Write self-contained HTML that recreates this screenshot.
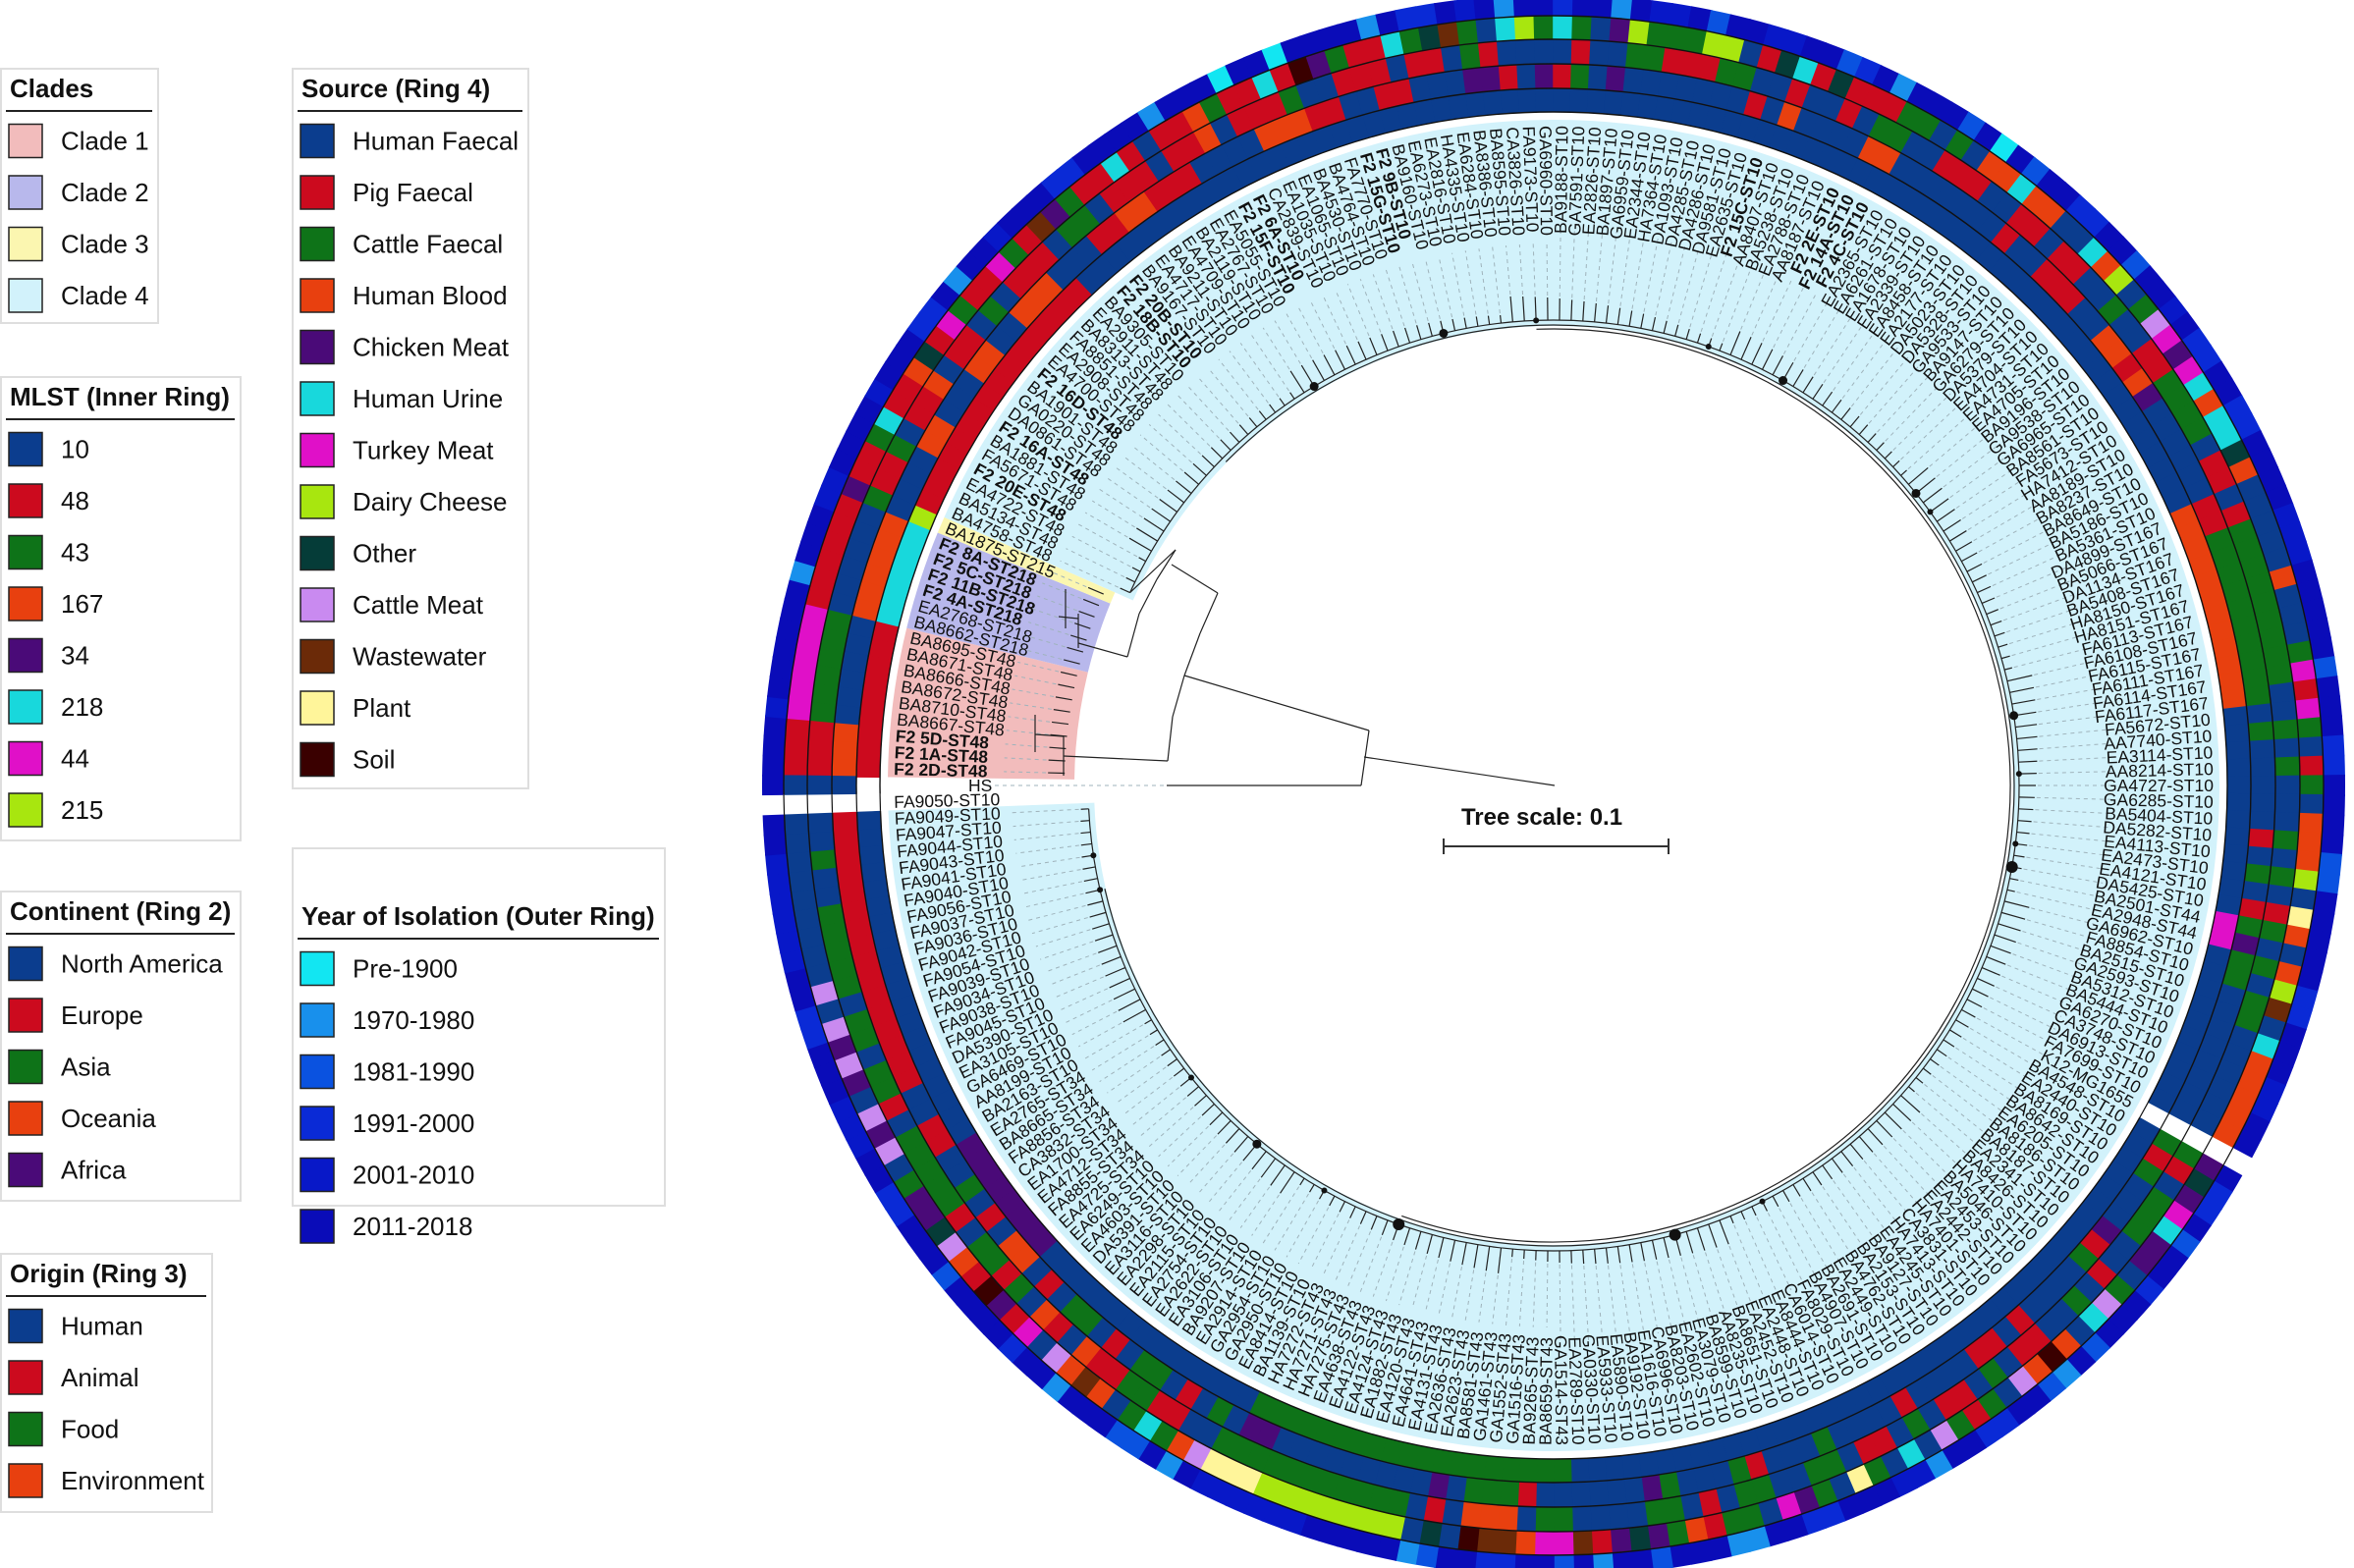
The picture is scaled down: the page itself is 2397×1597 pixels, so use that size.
<!DOCTYPE html>
<html><head><meta charset="utf-8"><title>Phylogenetic tree</title>
<style>
html,body{margin:0;padding:0;background:#fff;}
svg{display:block;font-family:"Liberation Sans",Arial,sans-serif;}
</style></head>
<body>
<svg id="chart" width="2397" height="1597" viewBox="0 0 2397 1597" xmlns="http://www.w3.org/2000/svg">
<g id="clades"></g>
<g id="tree" stroke="#222" stroke-width="1.2" fill="none"></g>
<g id="labels"></g>
<g id="rings"></g>
<g id="scale">
  <text x="1570" y="840" text-anchor="middle" font-size="24" font-weight="bold" fill="#111">Tree scale: 0.1</text>
  <path d="M1470 862 H1699 M1470 854 V870 M1699 854 V870" stroke="#333" stroke-width="2" fill="none"/>
</g>
<g id="legends"></g>
</svg>
<script>
// ---------- DATA ----------
const names = ["F2 2D-ST48","F2 1A-ST48","F2 5D-ST48","BA8667-ST48","BA8710-ST48","BA8672-ST48","BA8666-ST48","BA8671-ST48","BA8695-ST48",
"BA8662-ST218","EA2768-ST218","F2 4A-ST218","F2 11B-ST218","F2 5C-ST218","F2 8A-ST218","BA1875-ST215",
"BA4758-ST48","BA5134-ST48","EA4722-ST48","F2 20E-ST48","FA5671-ST48","BA1881-ST48","F2 16A-ST48","DA0861-ST48","GA0220-ST48","BA1901-ST48","F2 16D-ST48","EA4700-ST48","EA2908-ST48","FA8851-ST48","BA8313-ST48","EA2911-ST48",
"BA9305-ST10","F2 18B-ST10","F2 20B-ST10","BA9167-ST10","EA4717-ST10","BA9211-ST10","EA4709-ST10","BA2119-ST10","EA2767-ST10","EA5055-ST10","F2 15F-ST10","F2 6A-ST10","CA2839-ST10","EA1035-ST10","EA1065-ST10","BA4530-ST10","BA4764-ST10","FA7770-ST10","F2 15G-ST10","F2 9B-ST10","BA9160-ST10","EA6273-ST10","EA2816-ST10","HA4335-ST10","EA6284-ST10","BA8386-ST10","BA8595-ST10","CA3826-ST10","FA9173-ST10","GA6960-ST10","BA9188-ST10",
"GA7591-ST10","EA2826-ST10","BA1897-ST10","GA6959-ST10","EA2344-ST10","HA7364-ST10","DA1093-ST10","DA4285-ST10","DA4286-ST10","DA9581-ST10","EA2635-ST10","F2 15C-ST10","AA8407-ST10","BA5238-ST10","EA2788-ST10","AA8187-ST10","F2 2E-ST10","F2 14A-ST10","F2 4C-ST10","EA2365-ST10","EA6261-ST10","EA1678-ST10","EA2339-ST10","EA8458-ST10","EA2177-ST10","DA5023-ST10","DA5328-ST10","GA9533-ST10","BA9147-ST10","GA6279-ST10","DA5379-ST10","EA4704-ST10","EA4731-ST10","EA4705-ST10","BA9196-ST10","GA9538-ST10","GA6965-ST10","BA8561-ST10","FA5673-ST10","HA7412-ST10","AA8189-ST10","BA8237-ST10","BA8649-ST10","BA5186-ST10","BA5361-ST10",
"DA4899-ST167","BA5066-ST167","DA1134-ST167","BA5408-ST167","HA8150-ST167","HA8151-ST167","FA6113-ST167","FA6108-ST167","FA6115-ST167","FA6111-ST167","FA6114-ST167","FA6117-ST167",
"FA5672-ST10","AA7740-ST10","EA3114-ST10","AA8214-ST10","GA4727-ST10","GA6285-ST10","BA5404-ST10","DA5282-ST10","EA4113-ST10","EA2473-ST10","EA4121-ST10","DA5425-ST10","BA2501-ST44","EA2948-ST44","GA6962-ST10","FA8854-ST10","BA2515-ST10","GA2593-ST10","BA5312-ST10","BA5444-ST10","GA6270-ST10","CA3748-ST10","DA6913-ST10","FA7699-ST10","K12-MG1655",
"BA4548-ST10","EA2440-ST10","BA8169-ST10","BA8642-ST10","EA6205-ST10","BA8186-ST10","BA8187-ST10","EA2341-ST10","BA8426-ST10","HA7410-ST10","BA5046-ST10","EA2453-ST10","EA2442-ST10","HA7401-ST10","CA3831-ST10","HA7413-ST10","EA4245-ST10","BA9127-ST10","BA2153-ST10","BA4762-ST10","EA2449-ST10","BA2691-ST10","BA4907-ST10","FA8029-ST10","CA6014-ST10","EA8444-ST10","EA2448-ST10","EA2452-ST10","BA8651-ST10","AA8235-ST10","BA8599-ST10","EA3079-ST10","EA2602-ST10","BA8203-ST10","CA6996-ST10","EA1616-ST10","BA9192-ST10","EA5890-ST10","EA5933-ST10","GA0330-ST10","EA2789-ST10",
"GA1514-ST43","BA8659-ST43","BA9265-ST43","GA1516-ST43","GA1552-ST43","GA1461-ST43","BA8581-ST43","EA2623-ST43","EA2636-ST43","EA4131-ST43","EA4641-ST43","EA4120-ST43","EA1882-ST43","EA4124-ST43","EA4122-ST43","EA4638-ST43","HA7275-ST43","HA7271-ST43","HA7272-ST43",
"BA1139-ST10","EA8414-ST10","GA2950-ST10","GA2954-ST10","EA2914-ST10","BA9207-ST10","EA3106-ST10","EA2622-ST10","EA2754-ST10","EA2115-ST10","EA2298-ST10","EA3116-ST10","DA5391-ST10","EA4603-ST10","EA6249-ST10",
"EA4725-ST34","FA8855-ST34","EA4712-ST34","EA1700-ST34","CA3832-ST34","FA8856-ST34","BA8665-ST34","EA2765-ST34",
"BA2163-ST10","AA8199-ST10","GA6469-ST10","EA3105-ST10","DA5390-ST10",
"FA9045-ST10","FA9038-ST10","FA9034-ST10","FA9039-ST10","FA9054-ST10","FA9042-ST10","FA9036-ST10","FA9037-ST10","FA9056-ST10","FA9040-ST10","FA9041-ST10","FA9043-ST10","FA9044-ST10","FA9047-ST10","FA9049-ST10","FA9050-ST10","HS"];

const gapLeaves = [144, 248];
const cladeSegs = [[0,8,1],[9,14,2],[15,15,3],[16,247,4]];
const continentSegs = [[0,2,"O"],[9,14,"O"],[19,20,"O"],[24,25,"O"],[28,30,"O"],[34,35,"E"],[36,37,"O"],[38,40,"E"],[45,47,"O"],[48,49,"E"],[52,53,"E"],[57,58,"F"],[59,59,"E"],[61,61,"F"],[62,62,"E"],[63,63,"A"],[65,65,"F"],[73,73,"E"],[75,75,"O"],[80,81,"O"],[89,89,"E"],[92,94,"E"],[97,98,"O"],[99,99,"E"],[100,100,"O"],[101,101,"F"],[108,109,"E"],[110,119,"A"],[121,121,"A"],[127,127,"E"],[129,129,"A"],[131,131,"E"],[132,132,"A"],[133,133,"F"],[134,135,"A"],[145,145,"A"],[146,146,"E"],[147,147,"A"],[151,151,"F"],[152,152,"E"],[153,153,"A"],[158,158,"E"],[160,161,"E"],[166,166,"E"],[171,171,"A"],[175,175,"E"],[176,176,"A"],[180,180,"A"],[181,181,"F"],[188,188,"E"],[189,191,"A"],[193,193,"F"],[203,204,"F"],[206,206,"A"],[208,208,"E"],[210,211,"A"],[213,213,"E"],[215,216,"A"],[218,218,"E"],[220,221,"O"],[223,223,"E"],[225,225,"A"],[228,229,"E"],[232,247,"E"]];
const originSegs = [[0,2,"A"],[3,8,"F"],[15,15,"F"],[16,17,"A"],[18,18,"F"],[20,21,"A"],[22,22,"E"],[24,25,"A"],[27,27,"F"],[29,31,"A"],[33,34,"F"],[36,38,"A"],[40,41,"A"],[42,42,"E"],[44,46,"A"],[47,47,"F"],[50,52,"A"],[54,55,"A"],[57,57,"F"],[58,58,"A"],[63,63,"A"],[66,67,"F"],[68,70,"A"],[71,72,"F"],[75,75,"A"],[78,78,"A"],[80,81,"F"],[84,86,"A"],[89,90,"A"],[92,93,"A"],[96,96,"F"],[99,100,"A"],[101,104,"F"],[106,107,"A"],[109,109,"A"],[110,118,"F"],[121,121,"F"],[123,123,"F"],[127,127,"F"],[129,129,"F"],[131,131,"A"],[132,132,"F"],[134,134,"F"],[136,137,"F"],[145,145,"F"],[146,146,"A"],[148,150,"F"],[153,153,"A"],[155,155,"F"],[158,159,"A"],[161,161,"F"],[163,164,"A"],[166,166,"F"],[168,169,"A"],[171,172,"F"],[175,176,"F"],[178,178,"A"],[180,181,"F"],[186,187,"F"],[189,191,"E"],[193,193,"A"],[195,205,"F"],[208,209,"A"],[210,211,"F"],[212,213,"A"],[214,214,"E"],[216,216,"A"],[217,217,"E"],[219,219,"F"],[220,220,"A"],[221,222,"F"],[224,224,"A"],[225,229,"F"],[231,231,"A"],[232,233,"F"],[235,236,"F"],[238,242,"F"],[245,245,"F"]];
const sourceSegs = [[0,2,"p"],[3,8,"t"],[9,14,"p"],[15,15,"k"],[16,17,"p"],[18,18,"c"],[19,19,"u"],[20,21,"p"],[22,22,"b"],[23,23,"o"],[24,24,"p"],[25,25,"t"],[26,26,"c"],[27,28,"p"],[29,29,"t"],[30,30,"c"],[31,31,"p"],[32,32,"w"],[33,33,"k"],[34,34,"c"],[35,36,"p"],[37,37,"u"],[38,38,"p"],[40,41,"p"],[42,42,"b"],[43,43,"c"],[44,45,"p"],[46,46,"u"],[47,47,"p"],[48,48,"s"],[49,49,"k"],[50,50,"c"],[51,52,"p"],[53,53,"u"],[54,54,"c"],[55,55,"o"],[56,56,"w"],[57,57,"c"],[59,59,"u"],[60,60,"d"],[61,61,"c"],[62,62,"u"],[63,63,"c"],[65,65,"k"],[66,66,"d"],[67,69,"c"],[70,71,"d"],[73,73,"p"],[74,74,"o"],[75,75,"u"],[76,76,"p"],[77,77,"o"],[78,80,"p"],[81,82,"c"],[84,84,"c"],[86,87,"b"],[88,88,"u"],[89,90,"b"],[93,93,"u"],[94,94,"b"],[95,95,"d"],[97,97,"c"],[98,98,"m"],[99,99,"t"],[100,100,"k"],[101,101,"t"],[102,102,"u"],[103,103,"b"],[104,105,"u"],[106,106,"o"],[107,107,"b"],[113,113,"b"],[117,117,"c"],[118,118,"t"],[119,119,"p"],[120,120,"t"],[121,121,"c"],[123,123,"p"],[124,124,"c"],[126,128,"b"],[129,129,"d"],[131,131,"l"],[132,132,"b"],[134,134,"b"],[135,135,"d"],[136,136,"w"],[138,138,"u"],[139,143,"b"],[145,145,"k"],[146,146,"o"],[147,147,"k"],[148,148,"t"],[149,149,"u"],[150,151,"k"],[153,153,"c"],[154,154,"m"],[155,155,"u"],[157,157,"b"],[158,158,"s"],[159,159,"b"],[160,160,"m"],[162,162,"c"],[163,163,"p"],[164,164,"c"],[165,165,"m"],[167,167,"u"],[169,169,"c"],[170,170,"l"],[172,172,"c"],[173,173,"k"],[174,174,"t"],[176,177,"c"],[178,178,"p"],[179,179,"b"],[180,180,"c"],[181,181,"k"],[182,182,"o"],[183,183,"k"],[184,184,"p"],[185,185,"w"],[186,187,"t"],[188,188,"b"],[189,190,"w"],[191,191,"s"],[193,193,"o"],[195,202,"d"],[203,205,"l"],[206,206,"m"],[207,207,"b"],[208,208,"c"],[209,209,"u"],[210,210,"c"],[212,212,"b"],[213,213,"w"],[214,214,"b"],[215,215,"m"],[217,217,"t"],[218,218,"p"],[219,219,"k"],[220,220,"s"],[221,221,"p"],[222,222,"b"],[223,223,"m"],[224,224,"o"],[225,226,"k"],[227,227,"c"],[229,229,"m"],[230,230,"k"],[231,231,"m"],[233,233,"k"],[234,234,"m"],[235,235,"k"],[236,236,"m"],[238,238,"m"]];
const yearSegs = [[3,3,4],[10,10,1],[14,15,4],[20,20,4],[24,25,3],[27,27,1],[30,30,4],[34,35,3],[40,40,1],[44,44,0],[47,47,0],[52,52,1],[54,55,3],[57,57,4],[59,59,1],[62,62,3],[65,65,1],[67,68,4],[70,70,2],[73,74,4],[77,77,2],[78,78,3],[80,80,1],[84,84,2],[86,86,0],[88,88,2],[91,92,3],[95,95,2],[98,98,4],[100,101,3],[104,105,3],[110,112,4],[118,118,2],[122,123,3],[128,129,2],[135,136,3],[140,141,4],[146,147,3],[149,149,2],[152,152,3],[156,156,2],[158,158,1],[159,159,2],[162,163,3],[166,166,1],[167,168,4],[172,173,3],[176,177,1],[181,181,2],[184,184,1],[186,186,2],[189,190,3],[193,193,2],[194,194,1],[200,205,4],[207,207,1],[209,210,2],[214,214,1],[217,217,3],[222,222,2],[226,227,3],[230,232,4],[236,237,3],[240,245,4]];
const dotLeaves = [40,52,60,75,82,97,99,118,123,129,131,168,176,200,207,214,222,240,243];

// ---------- STYLES ----------
const mlstColors = {"10":"#0b3d8e","48":"#cc0a1e","43":"#0e7318","167":"#e8400f","34":"#4a0a78","218":"#18d8dc","44":"#e010c8","215":"#a8e60f"};
const contColors = {N:"#0b3d8e",E:"#cc0a1e",A:"#0e7318",O:"#e8400f",F:"#4a0a78"};
const originColors = {H:"#0b3d8e",A:"#cc0a1e",F:"#0e7318",E:"#e8400f"};
const sourceColors = {h:"#0b3d8e",p:"#cc0a1e",c:"#0e7318",b:"#e8400f",k:"#4a0a78",u:"#18d8dc",t:"#e010c8",d:"#a8e60f",o:"#053c38",m:"#c98af0",w:"#6b2a08",l:"#fff59a",s:"#3a0000"};
const yearColors = {0:"#12e6f2",1:"#1890ec",2:"#0a52e0",3:"#0a2ad6",4:"#0818c8",5:"#0a0cb8"};
const cladeColors = {1:"#f2bcbc",2:"#b8b8ec",3:"#fbf6b0",4:"#d2f2fb"};

const NS = "http://www.w3.org/2000/svg";
const N = names.length;
const step = 360 / N;
const cx = 1582, cy = 800;
function theta(i){ return (i + 1) * step; }
function pt(r, th){ const a = th * Math.PI / 180; return [cx - r * Math.cos(a), cy - r * Math.sin(a)]; }
function sector(r0, r1, t0, t1){
  const large = (t1 - t0) > 180 ? 1 : 0;
  const a = pt(r1, t0), b = pt(r1, t1), c = pt(r0, t1), d = pt(r0, t0);
  return `M${a[0].toFixed(2)} ${a[1].toFixed(2)} A${r1} ${r1} 0 ${large} 1 ${b[0].toFixed(2)} ${b[1].toFixed(2)} L${c[0].toFixed(2)} ${c[1].toFixed(2)} A${r0} ${r0} 0 ${large} 0 ${d[0].toFixed(2)} ${d[1].toFixed(2)} Z`;
}
function expand(def, segs){
  const a = new Array(N).fill(def);
  segs.forEach(s => { for (let i = s[0]; i <= s[1]; i++) a[i] = s[2]; });
  gapLeaves.forEach(g => a[g] = null);
  return a;
}
function mk(tag, attrs, parent){
  const e = document.createElementNS(NS, tag);
  for (const k in attrs) e.setAttribute(k, attrs[k]);
  parent.appendChild(e);
  return e;
}

const mlst = names.map((n, i) => { if (gapLeaves.includes(i)) return null; const m = n.match(/ST(\d+)/); return m ? m[1] : null; });
const continent = expand("N", continentSegs);
const origin = expand("H", originSegs);
const source = expand("h", sourceSegs);
const year = expand(5, yearSegs);

// ---------- CLADE BACKGROUNDS ----------
const gClade = document.getElementById("clades");
cladeSegs.forEach(s => {
  const r0 = s[2] === 4 ? 468 : 488;
  const p = mk("path", {d: sector(r0, 678, theta(s[0]) - step/2, theta(s[1]) + step/2), fill: cladeColors[s[2]]}, gClade);
  
  
});

// ---------- RINGS ----------
const gRings = document.getElementById("rings");
const ringDefs = [
  {vals: mlst, colors: mlstColors, r0: 686, r1: 710, name: "mlst"},
  {vals: continent, colors: contColors, r0: 710, r1: 735, name: "continent"},
  {vals: origin, colors: originColors, r0: 735, r1: 760, name: "origin"},
  {vals: source, colors: sourceColors, r0: 760, r1: 784, name: "source"},
  {vals: year, colors: yearColors, r0: 784, r1: 806, name: "year"}
];
ringDefs.forEach(rd => {
  const g = mk("g", {}, gRings);
  
  
  rd.vals.forEach((v, i) => {
    if (v === null || v === undefined) return;
    const t = theta(i);
    const p = mk("path", {d: sector(rd.r0, rd.r1, t - step/2 - 0.06, t + step/2 + 0.06), fill: rd.colors[v]}, g);
    
    
  });
});
[686, 710, 735, 760, 784].forEach(r => {
  const c = mk("circle", {cx: cx, cy: cy, r: r, fill: "none", stroke: "#111", "stroke-width": 1.4}, gRings);
  
  
});
gapLeaves.forEach(g => {
  const t = theta(g);
  const p = mk("path", {d: sector(684, 810, t - step/2, t + step/2), fill: "#fff"}, gRings);
  
  
  [686, 710, 735, 760, 784].forEach(r => {
    const a = pt(r, t - step/2), b = pt(r, t + step/2);
    const l = mk("line", {x1: a[0], y1: a[1], x2: b[0], y2: b[1], stroke: "#111", "stroke-width": 1.2}, gRings);
    
    
  });
});

// ---------- LABELS ----------
const gLab = document.getElementById("labels");
names.forEach((n, i) => {
  const t = theta(i) % 360;
  const right = t > 90 && t < 270;
  const rr = n === "HS" ? 596 : 672;
  const p = pt(rr, t);
  const rot = right ? t + 180 : t;
  const tx = mk("text", {x: p[0].toFixed(2), y: p[1].toFixed(2), transform: `rotate(${rot.toFixed(3)} ${p[0].toFixed(2)} ${p[1].toFixed(2)})`, "text-anchor": right ? "end" : "start", "dominant-baseline": "central", "font-size": 17.5, fill: "#111"}, gLab);
  if (n.startsWith("F2 ")) tx.setAttribute("font-weight", "bold");
  tx.textContent = n;
  
  
});

// ---------- TREE ----------
const gTree = document.getElementById("tree");
function line(a, b, dash){
  const l = mk("line", {x1: a[0], y1: a[1], x2: b[0], y2: b[1]}, gTree);
  if (dash){ l.setAttribute("stroke", "#9fb3bb"); l.setAttribute("stroke-width", "1"); l.setAttribute("stroke-dasharray", "4 4"); }
  
  
  return l;
}
[[474, 16, 247], [469, 30, 240], [465, 60, 200]].forEach(a => {
  const t0 = theta(a[1]), t1 = theta(a[2]);
  const s = pt(a[0], t0), e = pt(a[0], t1);
  const p = mk("path", {d: `M${s[0]} ${s[1]} A${a[0]} ${a[0]} 0 1 1 ${e[0]} ${e[1]}`}, gTree);
  
  
});
names.forEach((n, i) => {
  const t = theta(i) % 360;
  if (i >= 16 && i <= 247){
    const L = 8 + ((i * 37) % 19);
    const tip = 474 + L;
    line(pt(474, t), pt(tip, t), false);
    const right = t > 90 && t < 270;
    line(pt(tip + 2, t), pt(right ? 568 : 552, t), true);
  } else if (i < 16){
    line(pt(498, t), pt(515, t), false);
    line(pt(517, t), pt(560, t), true);
  }
});
dotLeaves.forEach(i => {
  const p = pt(474, theta(i));
  const c = mk("circle", {cx: p[0], cy: p[1], r: 3 + (i % 3) * 1.5, fill: "#111", stroke: "none"}, gTree);
  
  
});
const treeLines = [
  [[1188,800],[1386,800]], [[1386,800],[1394,744]], [[1389,771],[1583,800]],
  [[1206,688],[1394,744]], [[1189,775],[1194,730]], [[1194,730],[1206,688]], [[1206,688],[1222,645]], [[1222,645],[1240,604]],
  [[1083,770],[1189,775]], [[1193,575],[1240,604]], [[1098,655],[1148,669]],
  [[1148,669],[1160,625]], [[1160,625],[1178,590]], [[1178,590],[1197,560]],
  [[1083,750],[1083,790]], [[1054,748],[1083,750]], [[1054,728],[1054,766]],
  [[1098,625],[1098,660]], [[1078,628],[1098,630]], [[1085,600],[1085,640]]
];
treeLines.forEach(l => line(l[0], l[1], false));
line([1005,800],[1188,800], true);
line(pt(474, theta(16)), [1197,560], false);

// ---------- LEGENDS ----------
const legendTitles = ["Clades","Source (Ring 4)","MLST (Inner Ring)","Continent (Ring 2)","Origin (Ring 3)","Year of Isolation (Outer Ring)"];
const legendItems = [
  ["Clade 1","Clade 2","Clade 3","Clade 4"],
  ["Human Faecal","Pig Faecal","Cattle Faecal","Human Blood","Chicken Meat","Human Urine","Turkey Meat","Dairy Cheese","Other","Cattle Meat","Wastewater","Plant","Soil"],
  ["10","48","43","167","34","218","44","215"],
  ["North America","Europe","Asia","Oceania","Africa"],
  ["Human","Animal","Food","Environment"],
  ["Pre-1900","1970-1980","1981-1990","1991-2000","2001-2010","2011-2018"]
];
const legendColors = [
  [cladeColors[1],cladeColors[2],cladeColors[3],cladeColors[4]],
  ["#0b3d8e","#cc0a1e","#0e7318","#e8400f","#4a0a78","#18d8dc","#e010c8","#a8e60f","#053c38","#c98af0","#6b2a08","#fff59a","#3a0000"],
  ["#0b3d8e","#cc0a1e","#0e7318","#e8400f","#4a0a78","#18d8dc","#e010c8","#a8e60f"],
  ["#0b3d8e","#cc0a1e","#0e7318","#e8400f","#4a0a78"],
  ["#0b3d8e","#cc0a1e","#0e7318","#e8400f"],
  ["#12e6f2","#1890ec","#0a52e0","#0a2ad6","#0818c8","#0a0cb8"]
];
const legendNames = ["clades-legend","source-legend","mlst-legend","continent-legend","origin-legend","year-legend"];
const legendBoxes = [[1,70,160,259,70],[298,70,240,733,70],[1,384,244,472,384],[1,908,244,315,908],[1,1277,215,263,1277],[298,864,379,364,913]];
const gLeg = document.getElementById("legends");
legendTitles.forEach((title, k) => {
  const b = legendBoxes[k];
  const g = mk("g", {}, gLeg);
  
  
  const rect = mk("rect", {x: b[0], y: b[1], width: b[2], height: b[3], fill: "#fff", stroke: "#dedede", "stroke-width": 2}, g);
  
  
  const top = b[4];
  const tt = mk("text", {x: b[0] + 9, y: top + 29, "font-size": 26, "font-weight": "bold", fill: "#111"}, g);
  tt.textContent = title;
  
  
  const ul = mk("line", {x1: b[0] + 5, y1: top + 43, x2: b[0] + b[2] - 6, y2: top + 43, stroke: "#222", "stroke-width": 2}, g);
  
  
  legendItems[k].forEach((lab, j) => {
    const yc = top + 73.5 + j * 52.5;
    const sw = mk("rect", {x: b[0] + 8, y: yc - 17, width: 34, height: 34, fill: legendColors[k][j], stroke: "#222", "stroke-width": 1.5}, g);
    
    
    const t = mk("text", {x: b[0] + 61, y: yc + 9, "font-size": 26, fill: "#111"}, g);
    t.textContent = lab;
    
    
  });
});
</script>
</body></html>
